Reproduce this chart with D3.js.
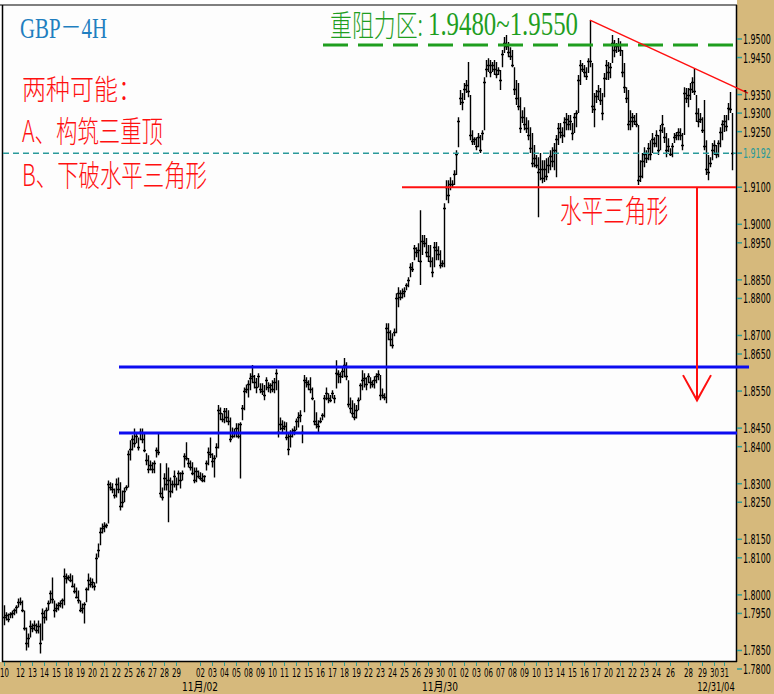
<!DOCTYPE html>
<html><head><meta charset="utf-8">
<script src="https://cdn.jsdelivr.net/npm/d3@7"></script>
<style>body{margin:0;background:#fff}svg{display:block}</style>
</head><body><svg id="c" width="774" height="694"></svg>
<script>
// ---- DATA (4H bars, GBP/USD, Oct 10 – Dec 31 2004) ----
const highs=[
1.7972,1.7953,1.7950,1.7953,1.7958,1.7963,1.7972,1.7990,1.7993,1.7985,
1.7958,1.7912,1.7896,1.7931,1.7923,1.7931,1.7923,1.7931,1.7923,1.7963,
1.7958,1.7966,1.7985,1.8012,1.8047,1.7985,1.7977,1.7980,1.7985,1.7990,
1.8071,1.8058,1.8053,1.8058,1.8053,1.8031,1.8020,1.8012,1.7985,1.7977,
1.7980,1.8020,1.8058,1.8047,1.8044,1.8034,1.8112,1.8139,1.8182,1.8193,
1.8196,1.8193,1.8309,1.8304,1.8301,1.8287,1.8314,1.8317,1.8304,1.8282,
1.8290,1.8296,1.8390,1.8417,1.8431,1.8449,1.8439,1.8425,1.8449,1.8449,
1.8436,1.8382,1.8377,1.8363,1.8358,1.8363,1.8398,1.8439,1.8355,1.8290,
1.8328,1.8355,1.8344,1.8317,1.8309,1.8336,1.8317,1.8336,1.8331,1.8336,
1.8382,1.8412,1.8369,1.8363,1.8358,1.8344,1.8344,1.8336,1.8331,1.8328,
1.8323,1.8363,1.8398,1.8425,1.8382,1.8377,1.8409,1.8512,1.8506,1.8490,
1.8504,1.8504,1.8498,1.8479,1.8452,1.8449,1.8463,1.8463,1.8466,1.8512,
1.8560,1.8568,1.8579,1.8598,1.8620,1.8593,1.8585,1.8598,1.8571,1.8571,
1.8566,1.8587,1.8574,1.8571,1.8579,1.8585,1.8609,1.8579,1.8479,1.8471,
1.8468,1.8466,1.8436,1.8444,1.8449,1.8455,1.8476,1.8493,1.8498,1.8458,
1.8593,1.8587,1.8579,1.8587,1.8560,1.8525,1.8493,1.8471,1.8479,1.8490,
1.8539,1.8560,1.8544,1.8539,1.8552,1.8539,1.8633,1.8606,1.8601,1.8612,
1.8639,1.8628,1.8579,1.8533,1.8525,1.8517,1.8512,1.8533,1.8571,1.8606,
1.8598,1.8587,1.8598,1.8587,1.8579,1.8590,1.8598,1.8606,1.8593,1.8557,
1.8544,1.8733,1.8733,1.8714,1.8706,1.8719,1.8814,1.8830,1.8822,1.8827,
1.8830,1.8841,1.8857,1.8895,1.8898,1.8944,1.8938,1.8949,1.9038,1.8971,
1.8971,1.8963,1.8944,1.8944,1.8911,1.8952,1.8952,1.8941,1.8930,1.8903,
1.9057,1.9119,1.9119,1.9127,1.9119,1.9146,1.9200,1.9289,1.9362,1.9354,
1.9381,1.9389,1.9438,1.9349,1.9254,1.9235,1.9235,1.9246,1.9241,1.9254,
1.9397,1.9443,1.9448,1.9443,1.9438,1.9443,1.9438,1.9424,1.9416,1.9470,
1.9505,1.9511,1.9492,1.9478,1.9470,1.9424,1.9389,1.9381,1.9343,1.9308,
1.9316,1.9289,1.9281,1.9262,1.9246,1.9214,1.9187,1.9181,1.9192,1.9173,
1.9173,1.9178,1.9181,1.9200,1.9208,1.9219,1.9241,1.9273,1.9273,1.9262,
1.9289,1.9300,1.9295,1.9295,1.9273,1.9300,1.9308,1.9403,1.9443,1.9435,
1.9430,1.9424,1.9448,1.9551,1.9435,1.9354,1.9362,1.9376,1.9368,1.9354,
1.9408,1.9443,1.9438,1.9435,1.9511,1.9497,1.9489,1.9503,1.9494,1.9470,
1.9435,1.9370,1.9362,1.9308,1.9300,1.9295,1.9300,1.9268,1.9173,1.9192,
1.9208,1.9200,1.9219,1.9227,1.9246,1.9235,1.9254,1.9241,1.9268,1.9295,
1.9262,1.9246,1.9232,1.9205,1.9219,1.9246,1.9249,1.9259,1.9259,1.9246,
1.9370,1.9368,1.9368,1.9381,1.9397,1.9422,1.9349,1.9313,1.9300,1.9289,
1.9335,1.9227,1.9187,1.9181,1.9219,1.9227,1.9214,1.9227,1.9262,1.9281,
1.9295,1.9295,1.9327,1.9357,1.9300];
const lows=[
1.7918,1.7931,1.7926,1.7937,1.7937,1.7945,1.7950,1.7966,1.7972,1.7953,
1.7904,1.7850,1.7858,1.7885,1.7899,1.7904,1.7896,1.7896,1.7842,1.7877,
1.7923,1.7931,1.7958,1.7977,1.7977,1.7939,1.7953,1.7958,1.7966,1.7963,
1.7972,1.8031,1.8039,1.8034,1.8020,1.8004,1.7990,1.7977,1.7953,1.7950,
1.7923,1.7980,1.8012,1.8020,1.8018,1.8012,1.8031,1.8101,1.8134,1.8166,
1.8169,1.8180,1.8193,1.8282,1.8274,1.8260,1.8263,1.8274,1.8228,1.8236,
1.8250,1.8282,1.8290,1.8363,1.8390,1.8398,1.8409,1.8390,1.8417,1.8409,
1.8385,1.8350,1.8328,1.8336,1.8328,1.8328,1.8371,1.8377,1.8263,1.8255,
1.8282,1.8282,1.8196,1.8263,1.8274,1.8290,1.8282,1.8296,1.8287,1.8309,
1.8344,1.8363,1.8344,1.8336,1.8323,1.8301,1.8304,1.8314,1.8309,1.8304,
1.8304,1.8336,1.8350,1.8369,1.8344,1.8317,1.8371,1.8395,1.8471,1.8466,
1.8463,1.8466,1.8458,1.8412,1.8422,1.8425,1.8425,1.8422,1.8314,1.8471,
1.8498,1.8544,1.8533,1.8552,1.8571,1.8557,1.8544,1.8560,1.8544,1.8539,
1.8525,1.8552,1.8547,1.8544,1.8547,1.8544,1.8552,1.8425,1.8444,1.8439,
1.8444,1.8417,1.8377,1.8398,1.8425,1.8431,1.8444,1.8452,1.8466,1.8409,
1.8493,1.8560,1.8552,1.8544,1.8525,1.8458,1.8449,1.8439,1.8463,1.8471,
1.8479,1.8525,1.8517,1.8520,1.8530,1.8517,1.8557,1.8571,1.8571,1.8585,
1.8587,1.8579,1.8506,1.8490,1.8479,1.8471,1.8476,1.8498,1.8525,1.8552,
1.8560,1.8552,1.8571,1.8557,1.8560,1.8557,1.8571,1.8579,1.8525,1.8530,
1.8525,1.8517,1.8687,1.8671,1.8665,1.8698,1.8706,1.8776,1.8795,1.8800,
1.8803,1.8822,1.8830,1.8857,1.8871,1.8903,1.8911,1.8898,1.8836,1.8917,
1.8938,1.8911,1.8898,1.8884,1.8857,1.8884,1.8903,1.8903,1.8881,1.8884,
1.8884,1.9065,1.9057,1.9092,1.9100,1.9106,1.9133,1.9208,1.9322,1.9308,
1.9335,1.9354,1.9343,1.9227,1.9214,1.9214,1.9200,1.9208,1.9192,1.9227,
1.9254,1.9397,1.9411,1.9397,1.9411,1.9403,1.9394,1.9403,1.9362,1.9424,
1.9462,1.9470,1.9451,1.9443,1.9424,1.9349,1.9322,1.9308,1.9246,1.9273,
1.9254,1.9246,1.9227,1.9192,1.9154,1.9154,1.9151,1.9019,1.9119,1.9111,
1.9114,1.9119,1.9138,1.9146,1.9154,1.9146,1.9127,1.9214,1.9232,1.9219,
1.9235,1.9254,1.9254,1.9254,1.9227,1.9246,1.9262,1.9300,1.9376,1.9411,
1.9397,1.9389,1.9408,1.9424,1.9300,1.9262,1.9327,1.9335,1.9322,1.9281,
1.9343,1.9389,1.9389,1.9394,1.9435,1.9451,1.9462,1.9465,1.9454,1.9397,
1.9354,1.9327,1.9254,1.9254,1.9262,1.9268,1.9262,1.9106,1.9114,1.9124,
1.9154,1.9165,1.9173,1.9173,1.9192,1.9208,1.9208,1.9187,1.9200,1.9246,
1.9219,1.9181,1.9195,1.9184,1.9181,1.9219,1.9227,1.9227,1.9227,1.9200,
1.9241,1.9327,1.9316,1.9335,1.9354,1.9349,1.9276,1.9262,1.9273,1.9246,
1.9200,1.9133,1.9119,1.9154,1.9173,1.9187,1.9178,1.9181,1.9208,1.9227,
1.9249,1.9251,1.9281,1.9300,1.9146];
const closes=[
1.7940,1.7945,1.7935,1.7948,1.7952,1.7958,1.7968,1.7982,1.7980,1.7960,
1.7910,1.7870,1.7885,1.7915,1.7910,1.7920,1.7905,1.7915,1.7870,1.7950,
1.7940,1.7960,1.7978,1.8005,1.7990,1.7960,1.7965,1.7972,1.7978,1.7985,
1.8050,1.8045,1.8048,1.8040,1.8025,1.8010,1.7995,1.7985,1.7960,1.7965,
1.7975,1.8015,1.8040,1.8030,1.8035,1.8025,1.8100,1.8120,1.8170,1.8180,
1.8185,1.8188,1.8300,1.8290,1.8285,1.8270,1.8300,1.8285,1.8240,1.8250,
1.8280,1.8290,1.8380,1.8395,1.8420,1.8410,1.8430,1.8400,1.8440,1.8420,
1.8390,1.8365,1.8340,1.8350,1.8340,1.8355,1.8390,1.8385,1.8275,1.8265,
1.8315,1.8300,1.8310,1.8280,1.8300,1.8320,1.8300,1.8330,1.8310,1.8330,
1.8375,1.8370,1.8355,1.8345,1.8330,1.8310,1.8335,1.8320,1.8315,1.8310,
1.8320,1.8355,1.8385,1.8380,1.8360,1.8370,1.8400,1.8500,1.8490,1.8475,
1.8495,1.8480,1.8470,1.8420,1.8430,1.8440,1.8450,1.8430,1.8460,1.8505,
1.8550,1.8555,1.8570,1.8585,1.8590,1.8575,1.8560,1.8590,1.8555,1.8550,
1.8540,1.8580,1.8560,1.8565,1.8555,1.8575,1.8600,1.8440,1.8460,1.8450,
1.8455,1.8425,1.8395,1.8430,1.8440,1.8445,1.8470,1.8480,1.8485,1.8440,
1.8580,1.8575,1.8570,1.8555,1.8530,1.8470,1.8460,1.8455,1.8470,1.8485,
1.8530,1.8545,1.8530,1.8525,1.8545,1.8530,1.8600,1.8595,1.8590,1.8605,
1.8620,1.8590,1.8515,1.8505,1.8490,1.8480,1.8500,1.8525,1.8565,1.8580,
1.8585,1.8570,1.8590,1.8575,1.8570,1.8580,1.8590,1.8595,1.8540,1.8540,
1.8535,1.8720,1.8710,1.8690,1.8675,1.8710,1.8800,1.8815,1.8805,1.8815,
1.8820,1.8835,1.8850,1.8885,1.8880,1.8935,1.8925,1.8930,1.8900,1.8955,
1.8950,1.8925,1.8915,1.8900,1.8870,1.8940,1.8930,1.8920,1.8890,1.8895,
1.9045,1.9100,1.9080,1.9110,1.9110,1.9135,1.9190,1.9280,1.9340,1.9330,
1.9365,1.9375,1.9360,1.9240,1.9225,1.9230,1.9210,1.9235,1.9200,1.9245,
1.9385,1.9420,1.9430,1.9410,1.9430,1.9420,1.9405,1.9415,1.9390,1.9460,
1.9490,1.9480,1.9465,1.9455,1.9430,1.9365,1.9340,1.9320,1.9260,1.9290,
1.9270,1.9260,1.9240,1.9205,1.9165,1.9180,1.9160,1.9140,1.9150,1.9125,
1.9150,1.9130,1.9160,1.9185,1.9170,1.9200,1.9230,1.9260,1.9250,1.9240,
1.9275,1.9285,1.9270,1.9280,1.9245,1.9290,1.9300,1.9390,1.9430,1.9420,
1.9410,1.9400,1.9440,1.9440,1.9320,1.9310,1.9345,1.9360,1.9335,1.9300,
1.9395,1.9430,1.9410,1.9425,1.9490,1.9470,1.9480,1.9485,1.9470,1.9410,
1.9370,1.9340,1.9270,1.9280,1.9290,1.9280,1.9270,1.9120,1.9130,1.9170,
1.9190,1.9180,1.9205,1.9190,1.9230,1.9220,1.9240,1.9200,1.9255,1.9270,
1.9235,1.9200,1.9210,1.9190,1.9210,1.9235,1.9240,1.9250,1.9240,1.9215,
1.9355,1.9340,1.9350,1.9365,1.9385,1.9360,1.9300,1.9280,1.9285,1.9255,
1.9210,1.9150,1.9140,1.9165,1.9200,1.9215,1.9190,1.9220,1.9250,1.9270,
1.9280,1.9265,1.9315,1.9310,1.9192];

const yTicks=[1.9500,1.9450,1.9350,1.9300,1.9250,1.9100,1.9000,1.8950,1.8850,1.8800,1.8700,1.8650,1.8550,1.8450,1.8400,1.8300,1.8250,1.8150,1.8100,1.8000,1.7950,1.7850,1.7800];
const lastPrice=1.9192;
const xTickLabels=["10","12","13","14","15","18","19","20","21","22","25","26","27","28","29","02","03","04","05","08","09","10","11","12","15","16","17","18","19","22","23","24","25","26","29","30","01","02","03","06","07","08","09","10","13","14","15","16","17","20","21","22","23","24","26","28","29","30","31"];
const xTickIndex=[0,8,14,20,26,32,38,44,50,56,62,68,74,80,86,98,104,110,116,122,128,134,140,146,152,158,164,170,176,182,188,194,200,206,212,218,224,230,236,242,248,254,260,266,272,278,284,290,296,302,308,314,320,326,333,342,349,355,360];
const monthLabels=["11月/02","11月/30","12/31/04"];
const monthIndex=[98,218,356];

const resistance=1.9484, resistanceFrom=159.5;
const support=1.9100, supportFrom=199;
const boxTop=1.8615, boxBottom=1.8437, boxFrom=57.5;
const trendLine=[[293,1.9551],[372,1.9354]];
const arrowIndex=346.5, arrowTip=1.8525, arrowWing=1.8593;

// ---- DRAW ----
const TAN="#d6b97c", TEAL="#2a9a9a", RED="#ff1010", GREEN="#1f9e1f", BLUE="#0c0cf0";
const svg=d3.select("#c");
const x=d3.scaleLinear().domain([0,highs.length-1]).range([4,732]);
const y=d3.scaleLinear().domain([1.78,1.95]).range([669,39]);
const R=736;

svg.append("rect").attr("width",774).attr("height",694).attr("fill","#fff");
svg.append("rect").attr("x",737).attr("y",0).attr("width",37).attr("height",694).attr("fill",TAN);
svg.append("rect").attr("x",0).attr("y",662).attr("width",774).attr("height",32).attr("fill",TAN);
svg.append("rect").attr("x",2).attr("y",5).attr("width",734).attr("height",656).attr("fill","#fdfdfd");

// bars (HLC: vertical high-low, tick across at close)
let p="";
highs.forEach((h,i)=>{
  const xi=Math.round(x(i))+0.5;
  const yc=Math.round(y(closes[i]))+0.5;
  p+=`M${xi},${y(h).toFixed(1)}V${y(lows[i]).toFixed(1)}M${xi-1.5},${yc}H${xi+1.5}`;
});
svg.append("path").attr("d",p).attr("stroke","#000").attr("stroke-width",1.4).attr("fill","none");

// borders
svg.append("line").attr("x1",0).attr("x2",R+1).attr("y1",5).attr("y2",5).attr("stroke","#555").attr("stroke-width",1.5);
svg.append("line").attr("x1",2.5).attr("x2",2.5).attr("y1",5).attr("y2",662).attr("stroke","#000").attr("stroke-width",1.5);
svg.append("line").attr("x1",R+0.5).attr("x2",R+0.5).attr("y1",5).attr("y2",662).attr("stroke","#000").attr("stroke-width",1.5);
svg.append("line").attr("x1",2).attr("x2",R+1).attr("y1",661.5).attr("y2",661.5).attr("stroke","#000").attr("stroke-width",1.5);

// last price dashed
svg.append("line").attr("x1",3).attr("x2",R).attr("y1",y(lastPrice)).attr("y2",y(lastPrice))
  .attr("stroke",TEAL).attr("stroke-width",1.5).attr("stroke-dasharray","6,4");
// resistance dashed
svg.append("line").attr("x1",x(resistanceFrom)).attr("x2",R).attr("y1",y(resistance)).attr("y2",y(resistance))
  .attr("stroke",GREEN).attr("stroke-width",3).attr("stroke-dasharray","25,10");
// blue box
svg.append("line").attr("x1",x(boxFrom)).attr("x2",x(372.5)).attr("y1",y(boxTop)).attr("y2",y(boxTop)).attr("stroke",BLUE).attr("stroke-width",3);
svg.append("line").attr("x1",x(boxFrom)).attr("x2",x(366.5)).attr("y1",y(boxBottom)).attr("y2",y(boxBottom)).attr("stroke",BLUE).attr("stroke-width",3);
// support
svg.append("line").attr("x1",x(supportFrom)).attr("x2",R).attr("y1",y(support)).attr("y2",y(support)).attr("stroke",RED).attr("stroke-width",2);
// trend line
svg.append("line").attr("x1",x(trendLine[0][0])).attr("y1",y(trendLine[0][1])).attr("x2",x(trendLine[1][0])).attr("y2",y(trendLine[1][1]))
  .attr("stroke",RED).attr("stroke-width",1.5);
// arrow
svg.append("path").attr("d",`M${x(arrowIndex)},${y(support)}V${y(arrowTip)}M${x(arrowIndex-7)},${y(arrowWing)}L${x(arrowIndex)},${y(arrowTip)}L${x(arrowIndex+7)},${y(arrowWing)}`)
  .attr("stroke",RED).attr("stroke-width",2).attr("fill","none");

// condensed axis text via transform
const axFont='"DejaVu Sans Condensed","Liberation Sans Narrow","Liberation Sans",sans-serif';
function axText(t,xx,yy,sx,fill,anchor,size){
  return svg.append("text").attr("transform",`translate(${xx},${yy}) scale(${sx},1)`)
    .attr("text-anchor",anchor||"start").attr("font-family",axFont+',"Noto Sans CJK SC"').attr("font-size",size||14)
    .attr("fill",fill).text(t);
}
// y axis
yTicks.forEach(v=>{
  svg.append("line").attr("x1",737).attr("x2",742).attr("y1",y(v)).attr("y2",y(v)).attr("stroke",TEAL).attr("stroke-width",1.5);
  axText(d3.format(".4f")(v),743,y(v)+5,0.63,"#000");
});
svg.append("line").attr("x1",737).attr("x2",742).attr("y1",y(lastPrice)).attr("y2",y(lastPrice)).attr("stroke",TEAL).attr("stroke-width",1.5);
axText(d3.format(".4f")(lastPrice),743,y(lastPrice)+5,0.63,TEAL);

// x axis
xTickIndex.forEach((idx,k)=>{
  const xx=Math.round(x(idx))+0.5;
  svg.append("line").attr("x1",xx).attr("x2",xx).attr("y1",662).attr("y2",666).attr("stroke",TEAL).attr("stroke-width",1);
  axText(xTickLabels[k],xx,677,0.6,"#000","middle",13);
});
monthLabels.forEach((t,k)=>{
  axText(t,x(monthIndex[k]),690.5,t.length>7?0.74:0.8,"#000","middle",12.5);
});

// annotation texts
function label(t,xx,yy,size,sy,fill,family,len){
  const el=svg.append("text").attr("transform",`translate(${xx},${yy}) scale(1,${sy})`)
    .attr("font-family",family).attr("font-size",size).attr("font-weight",300).attr("fill",fill).text(t);
  if(len) el.attr("textLength",len).attr("lengthAdjust","spacingAndGlyphs");
}
const CJK='"Noto Sans CJK SC","Noto Sans CJK JP",sans-serif';
const SERIF='"Liberation Serif","Noto Sans CJK SC",serif';
label("GBP－4H",20,38,22,1.37,"#1f7fc0",SERIF,87);
label("两种可能：",22,100,24,1.2,RED,CJK,null);
label("A、构筑三重顶",22,142,21.5,1.4,RED,CJK,141);
label("B、下破水平三角形",22,186,21.5,1.4,RED,CJK,185);
label("重阻力区:",330,36,22,1.35,GREEN,CJK,93);
label("1.9480~1.9550",428,35,26,1.3,GREEN,SERIF,150);
label("水平三角形",560,222,21.7,1.4,RED,CJK,108);
</script></body></html>
